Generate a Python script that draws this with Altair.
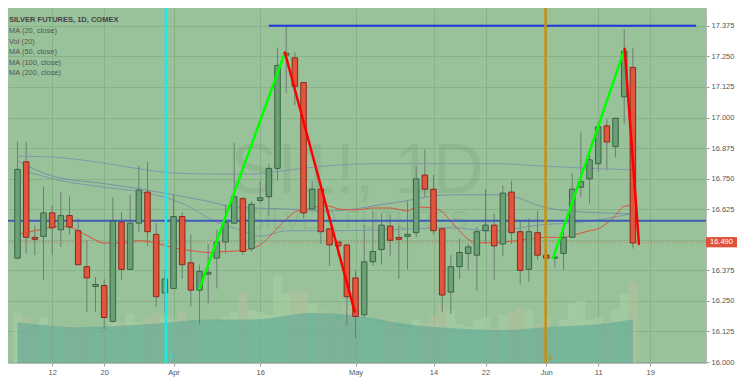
import altair as alt
import pandas as pd

# ---------------- data ----------------
idx = list(range(72))
opens = [16.425, 16.819, 16.510, 16.514, 16.610, 16.541, 16.599, 16.537, 16.390, 16.309,
         16.313, 16.166, 16.572, 16.379, 16.568, 16.695, 16.522, 16.282, 16.301, 16.595,
         16.406, 16.294, 16.359, 16.425, 16.491, 16.568, 16.668, 16.464, 16.661, 16.676,
         16.792, 17.255, 17.244, 17.143, 16.626, 16.707, 16.545, 16.491, 16.479, 16.344,
         16.193, 16.410, 16.460, 16.556, 16.510, 16.514, 16.529, 16.765, 16.707, 16.545,
         16.286, 16.390, 16.444, 16.437, 16.537, 16.560, 16.483, 16.695, 16.533, 16.379,
         16.529, 16.437, 16.425, 16.444, 16.510, 16.715, 16.749, 16.811, 16.966, 16.881,
         17.085, 17.205]
closes = [16.788, 16.510, 16.502, 16.610, 16.549, 16.599, 16.552, 16.398, 16.344, 16.317,
          16.182, 16.576, 16.379, 16.568, 16.703, 16.533, 16.267, 16.340, 16.595, 16.398,
          16.294, 16.371, 16.367, 16.491, 16.572, 16.676, 16.452, 16.645, 16.672, 16.792,
          17.213, 17.263, 17.128, 16.610, 16.707, 16.533, 16.479, 16.475, 16.267, 16.186,
          16.410, 16.452, 16.560, 16.498, 16.502, 16.522, 16.749, 16.707, 16.537, 16.274,
          16.390, 16.448, 16.471, 16.533, 16.560, 16.475, 16.691, 16.529, 16.375, 16.533,
          16.437, 16.425, 16.429, 16.510, 16.707, 16.738, 16.827, 16.962, 16.900, 16.997,
          17.271, 16.487]
highs = [16.900, 16.900, 16.560, 16.718, 16.641, 16.695, 16.676, 16.587, 16.498, 16.348,
         16.340, 16.672, 16.614, 16.684, 16.803, 16.819, 16.568, 16.375, 16.684, 16.614,
         16.522, 16.398, 16.483, 16.541, 16.645, 16.896, 16.676, 16.657, 16.742, 16.811,
         17.286, 17.371, 17.267, 17.143, 16.742, 16.707, 16.545, 16.491, 16.483, 16.375,
         16.560, 16.618, 16.606, 16.603, 16.556, 16.657, 16.800, 16.869, 16.765, 16.545,
         16.437, 16.506, 16.483, 16.552, 16.707, 16.606, 16.722, 16.742, 16.580, 16.587,
         16.618, 16.464, 16.456, 16.552, 16.772, 16.939, 16.869, 16.985, 16.993, 16.997,
         17.360, 17.286]
lows = [16.420, 16.444, 16.437, 16.336, 16.437, 16.471, 16.522, 16.398, 16.205, 16.205,
        16.135, 16.162, 16.336, 16.379, 16.533, 16.475, 16.224, 16.201, 16.301, 16.340,
        16.228, 16.155, 16.240, 16.301, 16.444, 16.568, 16.437, 16.452, 16.649, 16.599,
        16.742, 17.101, 17.051, 16.587, 16.626, 16.483, 16.394, 16.433, 16.147, 16.097,
        16.182, 16.394, 16.398, 16.433, 16.340, 16.379, 16.510, 16.676, 16.522, 16.205,
        16.197, 16.340, 16.375, 16.290, 16.483, 16.336, 16.433, 16.483, 16.317, 16.328,
        16.417, 16.340, 16.386, 16.375, 16.510, 16.676, 16.649, 16.780, 16.784, 16.838,
        16.973, 16.464]
volumes = [56.4, 52.1, 40.4, 52.1, 40.4, 40.4, 41.5, 40.4, 40.4, 38.3,
           38.3, 62.8, 45.8, 55.3, 45.8, 52.1, 56.4, 52.1, 48.9, 56.4,
           45.8, 46.8, 48.9, 45.8, 52.1, 57.5, 79.8, 59.6, 57.5, 54.3,
           99.0, 78.7, 80.9, 80.9, 67.0, 59.6, 54.3, 48.9, 64.9, 70.2,
           61.7, 48.9, 43.6, 48.9, 40.4, 38.3, 48.9, 45.8, 54.3, 64.9,
           59.6, 43.6, 40.4, 48.9, 51.1, 38.3, 54.3, 57.5, 61.7, 59.6,
           43.6, 51.1, 40.4, 48.9, 67.0, 70.2, 48.9, 51.1, 46.8, 59.6,
           77.7, 91.5]

vma_i = [0, 7, 15, 22, 27, 34, 40, 45, 52, 56, 61, 67, 71]
vma_v = [45.8, 40.4, 43.6, 48.9, 48.9, 56.4, 52.1, 43.6, 38.3, 37.2, 40.4, 43.6, 48.9]

ma20_i = [0, 2, 4, 5, 6, 8, 10, 12, 14, 16, 18, 20, 22, 24, 26, 27, 28, 29, 30, 31,
          32, 33, 35, 36, 37, 39, 41, 43, 45, 46, 48, 49, 50, 51, 52, 53, 55, 57, 59, 61,
          63, 64, 66, 67, 68, 69, 70, 71]
ma20_v = [16.522, 16.537, 16.552, 16.556, 16.552, 16.518, 16.487, 16.487, 16.496, 16.487,
          16.467, 16.456, 16.448, 16.452, 16.456, 16.464, 16.479, 16.510, 16.549, 16.583,
          16.614, 16.622, 16.637, 16.637, 16.626, 16.622, 16.630, 16.630, 16.618, 16.634,
          16.630, 16.614, 16.576, 16.537, 16.502, 16.487, 16.489, 16.494, 16.502, 16.510,
          16.510, 16.518, 16.537, 16.545, 16.568, 16.599, 16.637, 16.641]
ma200_i = [0, 4, 9, 13, 18, 23, 27, 30, 36, 41, 48, 56, 59, 66, 71]
ma200_v = [16.842, 16.838, 16.819, 16.796, 16.773, 16.769, 16.769, 16.780, 16.803, 16.811,
           16.811, 16.811, 16.805, 16.792, 16.786]
ma100_i = [0, 4, 10, 15, 22, 25, 31, 36, 43, 50, 56, 61, 66, 71]
ma100_v = [16.823, 16.761, 16.730, 16.703, 16.657, 16.634, 16.626, 16.618, 16.649, 16.684,
           16.684, 16.631, 16.612, 16.607]
ma50_i = [1, 5, 10, 15, 19, 23, 26, 28, 31, 36, 42, 50, 55, 60, 65, 71]
ma50_v = [16.780, 16.742, 16.715, 16.691, 16.649, 16.572, 16.537, 16.514, 16.537, 16.537,
          16.540, 16.549, 16.535, 16.560, 16.572, 16.607]

# drawn annotations (x in bar index, y in price)
seg_x1 = [21.0, 30.85, 61.8, 70.05]
seg_y1 = [16.300, 17.266, 16.425, 17.281]
seg_x2 = [30.85, 38.9, 70.05, 71.7]
seg_y2 = [17.266, 16.206, 17.281, 16.483]
seg_col = ['#00ff00', '#ff0000', '#00ff00', '#ff0000']

vline_x = [17.12, 60.93]
vline_col = ['#1de9e6', '#c8900f']
vline_lab = ['7', '5']

support_level = 16.578
resist_level = 17.375
resist_from, resist_to = 29.0, 78.3
last_price = 16.490

tick_idx = [4, 10, 18, 28, 39, 48, 54, 61, 67, 73]
tick_lab = ['12', '20', 'Apr', '16', 'May', '14', '22', 'Jun', '11', '19']
y_ticks = [16.0, 16.125, 16.25, 16.375, 16.5, 16.625, 16.75, 16.875, 17.0, 17.125, 17.25, 17.375]

legend_lines = ['SILVER FUTURES, 1D, COMEX', 'MA (20, close)', 'Vol (20)',
                'MA (50, close)', 'MA (100, close)', 'MA (200, close)']

# ---------------- layout / style ----------------
W, H = 698, 355
X_DOMAIN = [-0.52, 78.86]
Y_DOMAIN = [15.996, 17.448]
BG = '#99c29a'
GRID = '#86b288'
FONT = 'Liberation Sans'
UP_FILL, UP_STROKE = '#6b9f76', '#3a6446'
DN_FILL, DN_STROKE = '#e2553d', '#8a2a1c'

xs = alt.Scale(domain=X_DOMAIN, nice=False, zero=False)
ys = alt.Scale(domain=Y_DOMAIN, nice=False, zero=False)

expr = "".join(f"datum.value == {v} ? '{l}' : " for v, l in zip(tick_idx, tick_lab)) + "''"
x_axis = alt.Axis(values=tick_idx, labelExpr=expr, title='', grid=True, gridColor=GRID,
                  tickSize=3, tickColor='#999', domainColor='#bbb', labelFontSize=7.5,
                  labelColor='#555', labelFont=FONT, labelPadding=2)
y_axis = alt.Axis(orient='right', values=y_ticks, format='.3f', title='', grid=True,
                  gridColor=GRID, tickSize=3, tickColor='#999', domainColor='#bbb',
                  labelFontSize=7.5, labelColor='#555', labelFont=FONT, labelPadding=2)


def X(field):
    return alt.X(field, scale=xs, axis=x_axis)


def Y(field):
    return alt.Y(field, scale=ys, axis=y_axis)


df = pd.DataFrame({'i': idx, 'open': opens, 'close': closes, 'high': highs, 'low': lows,
                   'vol': volumes})
df['up'] = df['close'] >= df['open']

# ---------------- volume group (own y scale) ----------------
vscale = alt.Scale(domain=[0, 400], nice=False)
vol_bars = alt.Chart(df).mark_bar(size=8.8, opacity=0.45).encode(
    x=X('i:Q'),
    y=alt.Y('vol:Q', scale=vscale, axis=None),
    color=alt.condition('datum.up', alt.value('#acd3a9'), alt.value('#bdbf9f')),
)
vma_df = pd.DataFrame({'i': vma_i, 'v': vma_v})
vol_ma = alt.Chart(vma_df).mark_area(color='#56a596', opacity=0.55, interpolate='monotone').encode(
    x=X('i:Q'),
    y=alt.Y('v:Q', scale=vscale, axis=None),
)
vol_group = alt.layer(vol_bars, vol_ma)

# ---------------- price group ----------------
layers = []

wm1 = alt.Chart(pd.DataFrame({'t': ['SI1!, 1D']})).mark_text(
    font=FONT, fontSize=70, color='#5f7f62', opacity=0.16, align='center', baseline='alphabetic'
).encode(x=alt.value(349), y=alt.value(185), text='t:N')
wm2 = alt.Chart(pd.DataFrame({'t': ['SILVER FUTURES']})).mark_text(
    font=FONT, fontSize=26, color='#5f7f62', opacity=0.14, align='center', baseline='alphabetic'
).encode(x=alt.value(349), y=alt.value(221), text='t:N')
layers += [wm1, wm2]

wick = alt.Chart(df).mark_rule(color='#6d7d72', strokeWidth=1).encode(
    x=X('i:Q'), y=Y('low:Q'), y2='high:Q',
)
layers.append(wick)

for mi, mv, col, op in [(ma200_i, ma200_v, '#7d8fae', 0.85), (ma100_i, ma100_v, '#7388a6', 0.85),
                        (ma50_i, ma50_v, '#7a8da8', 0.85), (ma20_i, ma20_v, '#e0503a', 1.0)]:
    mdf = pd.DataFrame({'i': mi, 'v': mv})
    layers.append(alt.Chart(mdf).mark_line(color=col, strokeWidth=1, opacity=op,
                                           interpolate='monotone').encode(
        x=X('i:Q'), y=Y('v:Q')))

support = alt.Chart(pd.DataFrame({'p': [support_level]})).mark_rule(
    color='#3e5bb8', strokeWidth=2).encode(y=Y('p:Q'))
priceline = alt.Chart(pd.DataFrame({'p': [last_price]})).mark_rule(
    color='#d8583f', strokeWidth=1, strokeDash=[1, 2], opacity=0.8).encode(y=Y('p:Q'))
resist = alt.Chart(pd.DataFrame({'a': [resist_from], 'b': [resist_to], 'p': [resist_level]})).mark_rule(
    color='#1d36e0', strokeWidth=2).encode(x=X('a:Q'), x2='b:Q', y=Y('p:Q'))
layers += [support, priceline, resist]

body = alt.Chart(df).mark_bar(size=5.5, strokeWidth=1).encode(
    x=X('i:Q'), y=Y('open:Q'), y2='close:Q',
    fill=alt.condition('datum.up', alt.value(UP_FILL), alt.value(DN_FILL)),
    stroke=alt.condition('datum.up', alt.value(UP_STROKE), alt.value(DN_STROKE)),
)
layers.append(body)

seg_df = pd.DataFrame({'x1': seg_x1, 'y1': seg_y1, 'x2': seg_x2, 'y2': seg_y2, 'c': seg_col})
segs = alt.Chart(seg_df).mark_rule(strokeWidth=2.5, strokeCap='round').encode(
    x=X('x1:Q'), x2='x2:Q', y=Y('y1:Q'), y2='y2:Q',
    color=alt.Color('c:N', scale=None),
)
layers.append(segs)

vl_df = pd.DataFrame({'x': vline_x, 'c': vline_col, 't': vline_lab})
vlines = alt.Chart(vl_df).mark_rule(strokeWidth=2.5).encode(
    x=X('x:Q'), color=alt.Color('c:N', scale=None))
vlabels = alt.Chart(vl_df).mark_text(align='left', baseline='bottom', dx=3, fontSize=8,
                                     font=FONT).encode(
    x=X('x:Q'), y=alt.value(H - 1), text='t:N', color=alt.Color('c:N', scale=None))
layers += [vlines, vlabels]

for k, (txt, yy) in enumerate(zip(legend_lines, [12, 23, 33.5, 44, 54.5, 65])):
    layers.append(alt.Chart(pd.DataFrame({'t': [txt]})).mark_text(
        align='left', baseline='middle', font=FONT, fontSize=7.5,
        fontWeight='bold' if k == 0 else 'normal',
        color='#454545' if k == 0 else '#555555').encode(
        x=alt.value(1), y=alt.value(yy), text='t:N'))

lp_df = pd.DataFrame({'p': [last_price], 't': ['16.490']})
lp_box = alt.Chart(lp_df).mark_point(
    shape='M-1,-0.32L1,-0.32L1,0.32L-1,0.32Z', size=1024, filled=True, opacity=1,
    color='#e0533b', strokeWidth=0).encode(
    x=alt.value(W + 16), y=Y('p:Q'))
lp_txt = alt.Chart(lp_df).mark_text(align='left', baseline='middle', font=FONT, fontSize=7.5,
                                    color='white').encode(
    x=alt.value(W + 4), y=Y('p:Q'), text='t:N')
layers += [lp_box, lp_txt]

price_group = alt.layer(*layers)

chart = alt.layer(vol_group, price_group).resolve_scale(y='independent').properties(
    width=W, height=H,
    padding={'left': 0, 'top': 0, 'right': 31, 'bottom': 16},
    autosize=alt.AutoSizeParams(type='none'),
    background='white',
).configure_view(fill=BG, stroke=None)

chart.save('out.html', embed_options={'renderer': 'svg', 'actions': False})
